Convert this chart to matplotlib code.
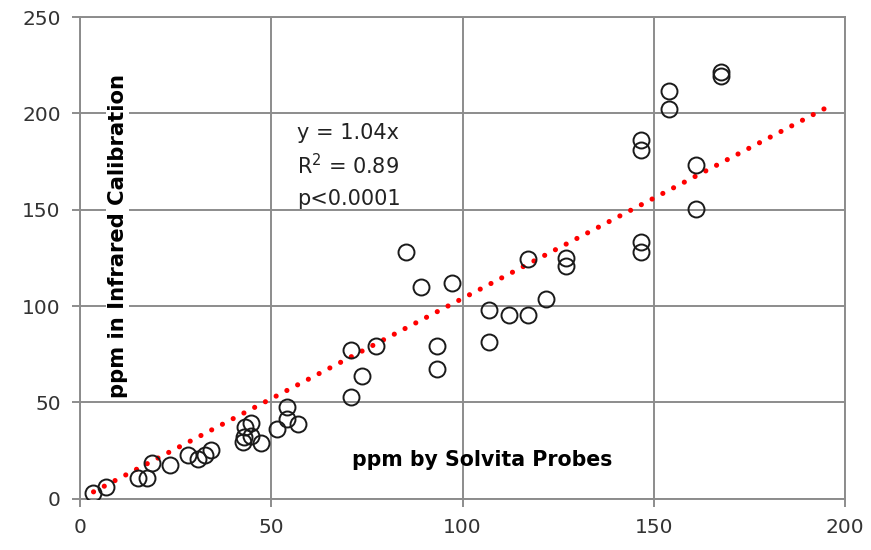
import matplotlib.pyplot as plt
import numpy as np

# readings: Solvita probes (x) vs infrared calibration (y), ppm
solvita_ppm = [3.3, 6.7, 15.2, 17.5, 18.9, 23.6, 28.1, 30.8, 32.6, 34.1,
               42.6, 42.8, 43.0, 44.6, 44.6, 47.4, 51.6, 54.1, 54.0, 56.9,
               70.9, 77.5, 73.7, 70.9, 85.3, 89.2, 97.3, 93.4, 93.4, 107.0,
               107.0, 112.1, 117.0, 121.8, 117.0, 127.1, 127.1, 146.8, 146.8, 154.0,
               154.0, 167.7, 167.7, 161.0, 161.0, 146.8, 146.8]
infrared_ppm = [3.0, 6.1, 11.0, 11.0, 18.5, 17.4, 23.0, 20.6, 23.0, 25.4,
                29.7, 32.3, 37.5, 39.2, 32.6, 28.9, 36.4, 47.5, 41.5, 39.0,
                77.2, 79.3, 63.9, 53.0, 128.1, 110.0, 112.1, 79.3, 67.4, 97.9,
                81.2, 95.3, 95.3, 103.5, 124.2, 125.2, 120.7, 186.0, 180.8, 211.4,
                202.4, 221.4, 219.2, 173.0, 150.3, 133.3, 128.1]

slope = 1.04
trend_range = [3.5, 195.5]
eq_lines = ["y = 1.04x", "R$^2$ = 0.89", "p<0.0001"]

x_ticks = [0, 50, 100, 150, 200]
y_ticks = [0, 50, 100, 150, 200, 250]

grid_col = "#8c8c8c"

fig = plt.figure(figsize=(8.71, 5.50), dpi=100)
ax = fig.add_axes([0.092, 0.093, 0.878, 0.876])

ax.set_xlim(0, 200)
ax.set_ylim(0, 250)
ax.set_xticks(x_ticks)
ax.set_yticks(y_ticks)
ax.grid(True, color=grid_col, linewidth=1.4, zorder=0)
ax.set_axisbelow(True)
for sp in ax.spines.values():
    sp.set_color(grid_col)
    sp.set_linewidth(1.4)
ax.tick_params(direction="out", length=6, width=1.4, color=grid_col,
               labelsize=14.5, labelcolor="#333333", pad=8)

# trend line
tx = np.array(trend_range)
ax.plot(tx, slope * tx, color="#ff0000", linewidth=3.7,
        linestyle=(0, (0.01, 2.35)), dash_capstyle="round", zorder=2)

ax.plot(solvita_ppm, infrared_ppm, linestyle="none", marker="o", markersize=11.5,
        markerfacecolor="none", markeredgecolor="#1a1a1a", markeredgewidth=1.4, zorder=3)

# labels sit inside the plot area
ax.text(0.049, 0.546, "ppm in Infrared Calibration", transform=ax.transAxes,
        rotation=90, ha="center", va="center", fontsize=15.2, fontweight="bold",
        bbox=dict(facecolor="white", edgecolor="none", pad=1), zorder=4)
ax.text(0.526, 0.08, "ppm by Solvita Probes", transform=ax.transAxes,
        ha="center", va="center", fontsize=14.8, fontweight="bold", zorder=4)

for i, line in enumerate(eq_lines):
    ax.text(56.8, 190 - i * 17.2, line, ha="left", va="center",
            fontsize=15, color="#222222", zorder=4)

fig.savefig("out.png", dpi=100)
